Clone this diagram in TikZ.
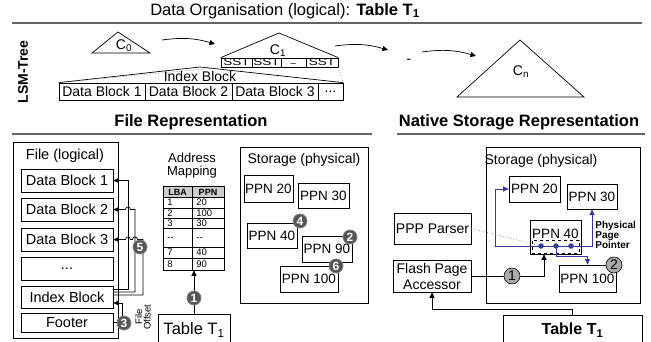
\documentclass[tikz,border=0pt]{standalone}
\usepackage{fontspec}
\setmainfont{Liberation Sans}
\usetikzlibrary{arrows.meta}
\definecolor{pblue}{RGB}{55,55,160}
\definecolor{dgray}{RGB}{85,85,85}
\definecolor{lgray}{RGB}{170,170,170}
\definecolor{hgray}{RGB}{100,100,100}
\definecolor{thgray}{RGB}{205,205,205}
\newcommand\fsz[1]{\fontsize{#1}{#1}\selectfont}
\newcommand\mybox[6][]{\node[box,#1,minimum width={#5pt-#3pt},minimum height={#6pt-#4pt}] (#2) at ({(#3+#5)/2},{(#4+#6)/2})}
\begin{document}
\begin{tikzpicture}[x=1pt,y=-1pt,line width=0.7pt,
 box/.style={draw,inner sep=0pt,font=\fsz{14}},
 arr/.style={-{Triangle[length=5.5pt,width=5pt]}},
 dnum/.style={circle,fill=dgray,draw=gray,line width=0.8pt,text=white,inner sep=0pt,minimum size=14pt,font=\bfseries\fsz{12}},
 lnum/.style={circle,fill=lgray,draw=black,line width=0.6pt,inner sep=0pt,minimum size=16pt,font=\fsz{14}},
 hline/.style={hgray,line width=1.3pt},
 lbl/.style={inner sep=0pt,font=\fsz{14}},
 tcell/.style={inner sep=0pt,anchor=west,font=\fsz{9.5}},
 thead/.style={inner sep=0pt,font=\bfseries\fsz{9}},
]
\useasboundingbox (0,0) rectangle (651,341);
\clip (0,0) rectangle (651,341);

% ---------- title and headers
\node[lbl,font=\fsz{16.5}] (title) at (285,11) {Data Organisation (logical): \textbf{Table T\textsubscript{1}}};
\draw[hline] (12,23) -- (642,23);
\node[lbl,font=\bfseries\fsz{14},rotate=90] (lsm) at (23,72) {LSM-Tree};
\node[lbl,font=\bfseries\fsz{16.5}] (hfile) at (191,122) {File Representation};
\draw[hline] (12,134) -- (372,134);
\node[lbl,font=\bfseries\fsz{16.5}] (hnat) at (519,122) {Native Storage Representation};
\draw[hline] (397,134) -- (645,134);

% ---------- LSM tree
\draw (92,53) -- (118,32) -- (150,53) -- cycle;
\node[lbl] (c0) at (124,46) {C\textsubscript{0}};
\mybox{s1}{221}{58}{252}{67}{\scalebox{1.35}[1]{\fsz{10}SST}};
\mybox{s2}{252}{58}{281}{67}{\scalebox{1.35}[1]{\fsz{10}SST}};
\mybox{s3}{281}{58}{306}{67}{\raisebox{-2pt}{\fsz{10}\textunderscore}};
\mybox{s4}{306}{58}{338}{67}{\scalebox{1.35}[1]{\fsz{10}SST}};
\draw (s1.north west) -- (279,33) -- (s4.north east);
\node[lbl] (c1) at (278,51) {C\textsubscript{1}};
\draw (457,97) -- (520,40) -- (584,97) -- cycle;
\node[lbl] (cn) at (521,72) {C\textsubscript{n}};
\node[lbl] (dash) at (409,61) {-};
\coordinate (a1s) at (162,40); \coordinate (a1e) at (215,44);
\coordinate (a2s) at (335,46); \coordinate (a2e) at (388,50);
\coordinate (a3s) at (422,52); \coordinate (a3e) at (476,56);
\draw[arr] (a1s) to[bend left=12] (a1e);
\draw[arr] (a2s) to[bend left=12] (a2e);
\draw[arr] (a3s) to[bend left=12] (a3e);
\mybox{b1}{59}{83}{145}{100}{Data Block 1};
\mybox{b2}{145}{83}{232}{100}{Data Block 2};
\mybox{b3}{232}{83}{318}{100}{Data Block 3};
\mybox{b4}{318}{83}{343}{100}{...};
\coordinate (iapex) at (200,67);
\draw (b1.north west) -- (iapex) -- (b4.north east);
\draw[gray,dotted] (s1.south west) -- (b1.north west);
\draw[gray,dotted] (s4.south east) -- (b4.north east);
\node[lbl] (iblk) at (200,76) {Index Block};

% ---------- File representation
\mybox{filebox}{13}{142}{118}{338}{};
\node[lbl,font=\fsz{14.5}] (filelbl) at (65,156) {File (logical)};
\mybox[font=\fsz{14.5}]{db1}{21}{169}{113}{192}{Data Block 1};
\mybox[font=\fsz{14.5}]{db2}{21}{198}{113}{221}{Data Block 2};
\mybox[font=\fsz{14.5}]{db3}{21}{228}{113}{251}{Data Block 3};
\mybox[font=\fsz{14.5}]{dbd}{21}{257}{113}{280}{...};
\mybox[font=\fsz{14.5}]{idx}{21}{286}{113}{308}{Index Block};
\mybox[font=\fsz{14.5}]{foot}{21}{313}{113}{332}{Footer};

\draw[arr] ([yshift=8pt]idx.east) -| (128,180.5) -- (db1.east);
\draw[arr] ([yshift=5pt]idx.east) -| (135,209.5) -- (130.5,209.5) arc[start angle=0,end angle=180,radius=2.5pt] -- (db2.east);
\draw[arr] ([yshift=2pt]idx.east) -| (143,239.5) -- (137.5,239.5) arc[start angle=0,end angle=180,radius=2.5pt] -- (130.5,239.5) arc[start angle=0,end angle=180,radius=2.5pt] -- (db3.east);
\draw[arr] (foot.east) -| (122,303) -- ([yshift=-6pt]idx.east);
\node[dnum] (n5) at (140,247) {5};
\node[dnum] (n3) at (124,323) {3};
\node[inner sep=0pt,rotate=90,align=center,font=\fsz{9.5}] (foff) at (143,317) {File\\[-1pt]Offset};

% address mapping
\node[lbl,font=\fsz{13}] (amlbl1) at (192,157.5) {Address};
\node[lbl,font=\fsz{13}] (amlbl2) at (192,172.5) {Mapping};
\fill[thgray] (163,186) rectangle (224,197);
\mybox{amap}{163}{186}{224}{270}{};
\foreach \yy in {197,208,218,228,247,258} \draw (163,\yy) -- (224,\yy);
\draw (192,186) -- (192,270);
\node[thead] (hlba) at (177.5,192) {LBA};
\node[thead] (hppn) at (208,192) {PPN};
\node[tcell] (r1a) at (167,202.5) {1};   \node[tcell] (r1b) at (196,202.5) {20};
\node[tcell] (r2a) at (167,213) {2};     \node[tcell] (r2b) at (196,213) {100};
\node[tcell] (r3a) at (167,223) {3};     \node[tcell] (r3b) at (196,223) {30};
\node[tcell] (r4a) at (167,239) {-{}-};  \node[tcell] (r4b) at (196,239) {-{}-};
\node[tcell] (r5a) at (167,252.5) {7};   \node[tcell] (r5b) at (196,252.5) {40};
\node[tcell] (r6a) at (167,264) {8};     \node[tcell] (r6b) at (196,264) {90};

\mybox[font=\fsz{16.5}]{tl}{158}{314}{230}{346}{\raisebox{3pt}{Table T\textsubscript{1}}};
\draw[arr] (tl.north) -- (tl.north |- amap.south);
\node[dnum] (n1l) at (194,298) {1};

% storage left
\mybox{stl}{240}{147}{368}{303}{};
\node[lbl] (stllbl) at (304,160) {Storage (physical)};
\mybox[font=\fsz{13.5}]{p20}{244}{175}{293}{202}{PPN 20};
\mybox[font=\fsz{13.5}]{p30}{298}{183}{349}{208}{PPN 30};
\mybox[font=\fsz{13.5}]{p40}{247}{223}{297}{248}{PPN 40};
\mybox[font=\fsz{13.5}]{p90}{302}{236}{352}{262}{PPN 90};
\mybox[font=\fsz{13.5}]{p100}{280}{266}{338}{292}{PPN 100};
\node[dnum] (n4) at (300,221) {4};
\node[dnum] (n2l) at (350,237) {2};
\node[dnum] (n6) at (336,266) {6};

% ---------- Native storage representation
\mybox{str}{486}{147}{640}{303}{};
\node[lbl] (strlbl) at (541,161) {Storage (physical)};
\mybox[font=\fsz{13.5}]{rp20}{509}{176}{560}{202}{PPN 20};
\mybox[font=\fsz{13.5}]{rp30}{567}{184}{617}{209}{PPN 30};
\mybox{rp40}{530}{220}{581}{254}{};
\node[lbl,font=\fsz{13.5}] (rp40t) at (555.5,234) {PPN 40};
\mybox[dashed,line width=0.6pt]{ptr}{532}{240}{579}{253}{};
\mybox[font=\fsz{13.5}]{rp100}{559}{265}{616}{292}{PPN 100};
\node[circle,fill=pblue,inner sep=0pt,minimum size=5.5pt] (d1) at (541,246) {};
\node[circle,fill=pblue,inner sep=0pt,minimum size=5.5pt] (d2) at (556,246) {};
\node[circle,fill=pblue,inner sep=0pt,minimum size=5.5pt] (d3) at (571,246) {};
\coordinate (c256) at (0,256.5);
\coordinate (cleft) at (495,246);
\draw[pblue,arr] (d1.center) -- (cleft) |- (rp20.west);
\draw[pblue] (d1.center) -- (d3.center);
\draw[pblue,arr] (d3.center) -| (rp30.south);
\draw[pblue,arr] (d2.center) -- (d2.center |- c256) -| (rp100.north);
\node[inner sep=0pt,anchor=north west,align=left,font=\bfseries\fontsize{10}{10}\selectfont] (ppp) at (595,221) {Physical\\Page\\Pointer};

\mybox{pars}{394}{213}{471}{244}{PPP Parser};
\mybox[align=center,font=\fontsize{14}{16}\selectfont]{fpa}{393}{260}{471}{292}{Flash Page\\Accessor};
\draw[gray,dotted] (pars.east) -- (d1);
\draw[arr] (fpa.east) -| ([xshift=-11.5pt]rp40.south);
\node[lnum] (n1r) at (512,276) {1};
\node[lnum] (n2r) at (614,265) {2};

\mybox[font=\bfseries\fsz{16}]{tr}{503}{315}{642}{346}{\raisebox{3pt}{Table T\textsubscript{1}}};
\coordinate (c309) at (0,309);
\draw[arr] (tr.north) -- (tr.north |- c309) -| (fpa.south);
\end{tikzpicture}
\end{document}
